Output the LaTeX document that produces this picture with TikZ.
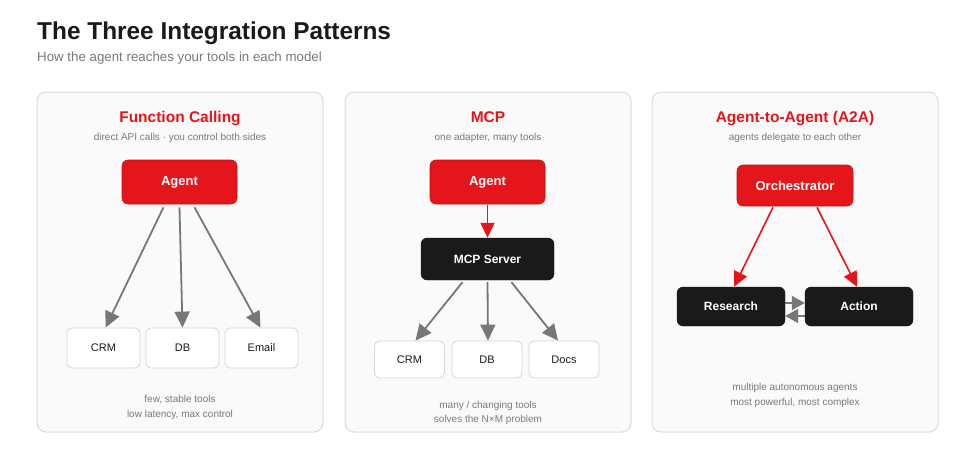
\documentclass[tikz,border=0pt]{standalone}
\usepackage{fontspec}
\setmainfont{Liberation Sans}
\usetikzlibrary{arrows.meta}
\definecolor{accent}{HTML}{E5161B}
\definecolor{ink}{HTML}{1A1A1A}
\definecolor{muted}{HTML}{7A7A7A}
\definecolor{arrowgray}{HTML}{777777}
\definecolor{panelfill}{HTML}{FAFAFA}
\definecolor{panelline}{HTML}{DCDCDC}
\definecolor{toolline}{HTML}{D6D6D6}
\tikzset{
  panel/.style={draw=panelline, fill=panelfill, line width=1pt, rounded corners=9pt},
  redbox/.style={draw=accent!85!black, fill=accent, rounded corners=6pt, text=white, font=\fontsize{13}{15}\selectfont\bfseries, line width=0.6pt},
  blackbox/.style={draw=ink, fill=ink, rounded corners=6pt, text=white, font=\fontsize{12}{14}\selectfont\bfseries},
  toolbox/.style={draw=toolline, fill=white, rounded corners=5pt, text=ink, font=\fontsize{11}{13}\selectfont, line width=0.8pt},
  ptitle/.style={anchor=base, text=accent, font=\fontsize{15.5}{18}\selectfont\bfseries, inner sep=0pt},
  psub/.style={anchor=base, text=muted, font=\fontsize{10}{12}\selectfont, inner sep=0pt},
  grayarrow/.style={draw=arrowgray, line width=1.8pt, -{Triangle[length=16pt,width=15pt]}},
  redarrow/.style={draw=accent, line width=1.6pt, -{Triangle[length=15pt,width=14pt]}},
  swaparrow/.style={draw=arrowgray, line width=1.6pt, -{Triangle[length=13pt,width=14pt]}},
}
\begin{document}
\begin{tikzpicture}[x=1pt,y=-1pt]
\path[fill=white,use as bounding box] (0,0) rectangle (975,475);
% header
\node[anchor=base west, inner sep=0pt, text=ink, font=\fontsize{24.4}{28}\selectfont\bfseries] (title) at (37,39) {The Three Integration Patterns};
\node[anchor=base west, inner sep=0pt, text=muted, font=\fontsize{13.3}{16}\selectfont] (subtitle) at (37,61) {How the agent reaches your tools in each model};

% panels
\path[panel] (37,92) rectangle (323,432);
\path[panel] (345,92) rectangle (631,432);
\path[panel] (652,92) rectangle (938,432);

% ---- Panel 1: Function Calling
\node[ptitle] (t1) at (180,122) {Function Calling};
\node[psub] (s1) at (180,140) {direct API calls · you control both sides};
\node[redbox, minimum width=115pt, minimum height=44pt] (agent1) at (179.5,182) {Agent};
\node[toolbox, minimum width=73pt, minimum height=40pt] (crm1) at (103.5,348) {CRM};
\node[toolbox, minimum width=73pt, minimum height=40pt] (db1) at (182.5,348) {DB};
\node[toolbox, minimum width=73pt, minimum height=40pt] (email1) at (261.5,348) {Email};
\draw[grayarrow] ([xshift=-16pt,yshift=-3pt]agent1.south) -- ([xshift=2pt]crm1.north);
\draw[grayarrow] ([xshift=0pt,yshift=-3pt]agent1.south) -- ([xshift=0pt]db1.north);
\draw[grayarrow] ([xshift=15pt,yshift=-3pt]agent1.south) -- ([xshift=-1pt]email1.north);
\node[psub] (f1a) at (180,402) {few, stable tools};
\node[psub] (f1b) at (180,417) {low latency, max control};

% ---- Panel 2: MCP
\node[ptitle] (t2) at (488,122) {MCP};
\node[psub] (s2) at (488,140) {one adapter, many tools};
\node[redbox, minimum width=115pt, minimum height=44pt] (agent2) at (487.5,182) {Agent};
\node[blackbox, minimum width=133pt, minimum height=42pt] (mcp) at (487.5,259) {MCP Server};
\node[toolbox, minimum width=70pt, minimum height=37pt] (crm2) at (409.5,359.5) {CRM};
\node[toolbox, minimum width=70pt, minimum height=37pt] (db2) at (487,359.5) {DB};
\node[toolbox, minimum width=70pt, minimum height=37pt] (docs2) at (564,359.5) {Docs};
\draw[redarrow] ([yshift=-1pt]agent2.south) -- (mcp.north);
\draw[grayarrow] ([xshift=-25pt,yshift=-2pt]mcp.south) -- ([xshift=6pt]crm2.north);
\draw[grayarrow] ([xshift=0pt,yshift=-2pt]mcp.south) -- ([xshift=1pt]db2.north);
\draw[grayarrow] ([xshift=24pt,yshift=-2pt]mcp.south) -- ([xshift=-6pt]docs2.north);
\node[psub] (f2a) at (488,408) {many / changing tools};
\node[psub] (f2b) at (488,422) {solves the N×M problem};

% ---- Panel 3: A2A
\node[ptitle] (t3) at (795,122) {Agent-to-Agent (A2A)};
\node[psub] (s3) at (795,140) {agents delegate to each other};
\node[redbox, minimum width=116pt, minimum height=41pt] (orch) at (795,185.5) {Orchestrator};
\node[blackbox, minimum width=108pt, minimum height=39pt] (research) at (731,306.5) {Research};
\node[blackbox, minimum width=108pt, minimum height=39pt] (action) at (859,306.5) {Action};
\draw[redarrow] ([xshift=-22pt,yshift=-1pt]orch.south) -- ([xshift=3pt]research.north);
\draw[redarrow] ([xshift=22pt,yshift=-1pt]orch.south) -- ([xshift=-2pt]action.north);
\draw[swaparrow] ([yshift=3.5pt]research.east) -- ([yshift=3.5pt]action.west);
\draw[swaparrow] ([yshift=-9.5pt]action.west) -- ([yshift=-9.5pt]research.east);
\node[psub] (f3a) at (795,390) {multiple autonomous agents};
\node[psub] (f3b) at (795,405) {most powerful, most complex};
\end{tikzpicture}
\end{document}
